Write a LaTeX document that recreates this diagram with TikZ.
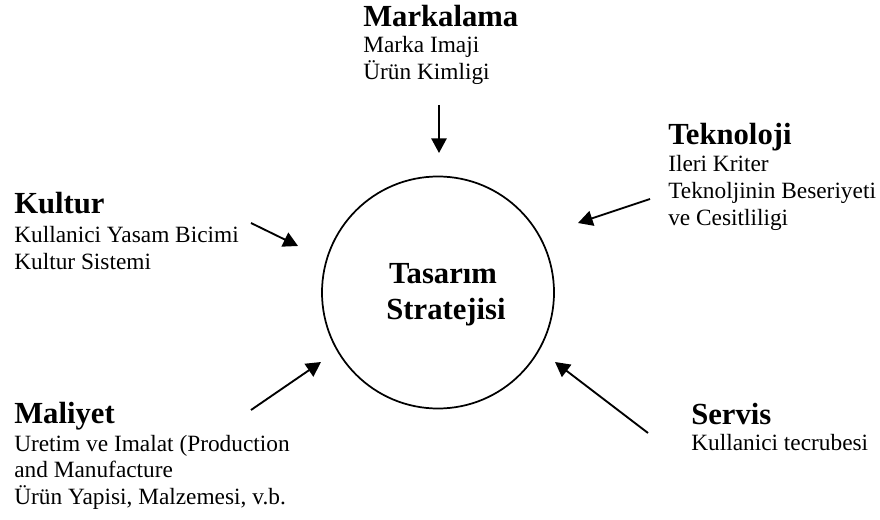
\documentclass[tikz,border=0pt]{standalone}
\usepackage{fontspec}
\setmainfont{Liberation Serif}
\usetikzlibrary{arrows.meta}
\begin{document}
\begin{tikzpicture}[x=0.75pt,y=-0.75pt,
  head/.style={anchor=base west,inner sep=0pt,font=\fontsize{23}{27}\selectfont\bfseries},
  body/.style={anchor=base west,inner sep=0pt,font=\fontsize{17.5}{20}\selectfont},
  ctext/.style={anchor=base,inner sep=0pt,font=\fontsize{23}{27}\selectfont\bfseries},
  arr/.style={line width=1.4pt,-{Triangle[length=11pt,width=11.5pt]}}]
\useasboundingbox (0,0) rectangle (880,520);
% circle
\node[draw,line width=1.3pt,circle,minimum size=232*0.75pt,inner sep=0pt] (circ) at (438,292.5) {};
\node[ctext] (c1) at (443,283) {Tasarım};
\node[ctext] (c2) at (446,319) {Stratejisi};
% Markalama
\node[head] (mk) at (363,26.5) {Markalama};
\node[body] (mk1) at (363,53) {Marka Imaji};
\node[body] (mk2) at (363,80) {Ürün Kimligi};
% Kultur
\node[head] (ku) at (14,214) {Kultur};
\node[body] (ku1) at (14,242.5) {Kullanici Yasam Bicimi};
\node[body] (ku2) at (14,269) {Kultur Sistemi};
% Teknoloji
\node[head] (te) at (668,145) {Teknoloji};
\node[body] (te1) at (668,172) {Ileri Kriter};
\node[body] (te2) at (668,198.5) {Teknoljinin Beseriyeti};
\node[body] (te3) at (668,225) {ve Cesitliligi};
% Maliyet
\node[head] (ma) at (14,423) {Maliyet};
\node[body] (ma1) at (14,451) {Uretim ve Imalat (Production};
\node[body] (ma2) at (14,477.5) {and Manufacture};
\node[body] (ma3) at (14,504) {Ürün Yapisi, Malzemesi, v.b.};
% Servis
\node[head] (se) at (691,424) {Servis};
\node[body] (se1) at (691,450) {Kullanici tecrubesi};
% arrow coordinates
\coordinate (amS) at (439,105);
\coordinate (amE) at (439,153);
\coordinate (akS) at (251,223);
\coordinate (akE) at (298,246);
\coordinate (atS) at (650,199);
\coordinate (atE) at (578,223);
\coordinate (aaS) at (251,410);
\coordinate (aaE) at (321,362);
\coordinate (asS) at (648,433);
\coordinate (asE) at (555,362);
\draw[arr] (amS) -- (amE);
\draw[arr] (akS) -- (akE);
\draw[arr] (atS) -- (atE);
\draw[arr] (aaS) -- (aaE);
\draw[arr] (asS) -- (asE);
\end{tikzpicture}
\end{document}
